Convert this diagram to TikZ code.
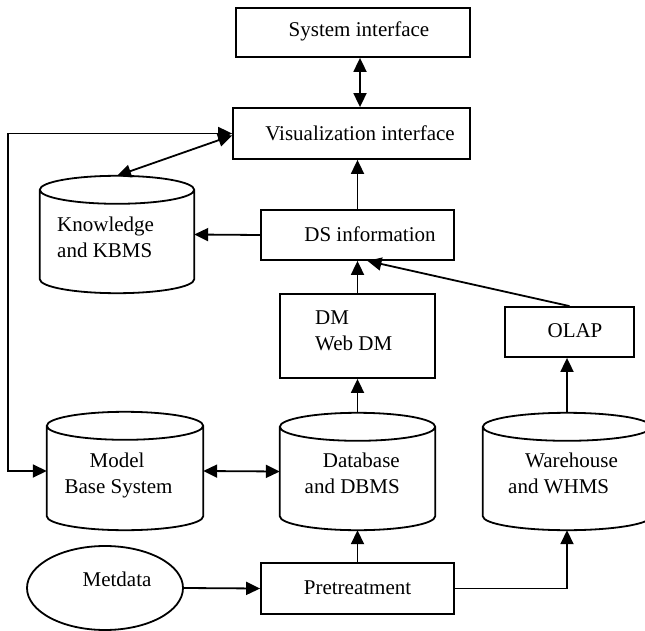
\documentclass[tikz,border=0pt]{standalone}
\usepackage{fontspec}
\setmainfont{Liberation Serif}
\usetikzlibrary{arrows.meta,calc,shapes.geometric}

\tikzset{
  line/.style={line width=1.8pt},
  tip/.tip={Triangle[length=14pt,width=13pt]},
  arr/.style={line, -tip},
  dbl/.style={line, tip-tip},
  box/.style={draw, line width=1.8pt, rectangle, inner sep=0pt},
  cylbody/.style={rectangle, inner sep=0pt},
  lbl/.style={inner sep=0pt, font=\rmfamily\fontsize{21}{25}\selectfont},
  oval/.style={draw, line width=1.8pt, ellipse, inner sep=0pt}
}

% upright cylinder drawn round a named body node
\newcommand\drawcyl[1]{%
  \draw[line] let \p1=(#1.north west), \p2=(#1.north east), \n1={(\x2-\x1)/2} in
    ([yshift=-14pt]#1.north west) -- ([yshift=14pt]#1.south west)
    arc[start angle=180, end angle=360, x radius=\n1, y radius=14pt]
    -- ([yshift=-14pt]#1.north east)
    arc[start angle=0, end angle=360, x radius=\n1, y radius=14pt];
}

\begin{document}
\begin{tikzpicture}[x=1pt,y=-1pt]
\useasboundingbox (0,0) rectangle (645,631);

% rectangular boxes
\node[box, minimum width=234pt, minimum height=49pt] (sys) at (353,32.5) {};
\node[lbl, anchor=base] (systxt) at (359,37) {System interface};
\node[box, minimum width=237pt, minimum height=51pt] (vis) at (351.5,133.5) {};
\node[lbl, anchor=base] (vistxt) at (360,141) {Visualization interface};
\node[box, minimum width=193pt, minimum height=50pt] (ds) at (357.5,235) {};
\node[lbl, anchor=base] (dstxt) at (370,241) {DS information};
\node[box, minimum width=155pt, minimum height=84pt] (dm) at (357.5,336) {};
\node[lbl, anchor=base west] (dmtxt1) at (315,324) {DM};
\node[lbl, anchor=base west] (dmtxt2) at (315,350) {Web DM};
\node[box, minimum width=129pt, minimum height=50pt] (olap) at (569.5,332) {};
\node[lbl, anchor=base] (olaptxt) at (575,337) {OLAP};
\node[box, minimum width=193pt, minimum height=51pt] (pre) at (357.5,588.5) {};
\node[lbl, anchor=base] (pretxt) at (357.5,594) {Pretreatment};

% cylinders
\node[cylbody, minimum width=154pt, minimum height=117pt] (kb) at (117,234.5) {};
\drawcyl{kb}
\node[lbl, anchor=base west] (kbtxt1) at (57,232) {Knowledge};
\node[lbl, anchor=base west] (kbtxt2) at (57,257) {and KBMS};

\node[cylbody, minimum width=156pt, minimum height=118pt] (mbs) at (125,471) {};
\drawcyl{mbs}
\node[lbl, anchor=base] (mbstxt1) at (117,467) {Model};
\node[lbl, anchor=base] (mbstxt2) at (118.5,493) {Base System};

\node[cylbody, minimum width=155pt, minimum height=117pt] (db) at (357.5,471.5) {};
\drawcyl{db}
\node[lbl, anchor=base east] (dbtxt1) at (400,467) {Database};
\node[lbl, anchor=base east] (dbtxt2) at (400,493) {and DBMS};

\node[cylbody, minimum width=168pt, minimum height=117pt] (wh) at (567,471.5) {};
\drawcyl{wh}
\node[lbl, anchor=base west] (whtxt1) at (525,467) {Warehouse};
\node[lbl, anchor=base west] (whtxt2) at (508,493) {and WHMS};

% metadata oval
\node[oval, minimum width=156pt, minimum height=84pt] (meta) at (105,588) {};
\node[lbl, anchor=base] (metatxt) at (117,586) {Metdata};

% connectors
\draw[dbl] ([xshift=7pt]sys.south) -- ([xshift=8.5pt]vis.north);
\coordinate (loop) at (8,300);
\draw[dbl] (vis.west) -| (loop) |- (mbs.west);
\draw[dbl] ([yshift=-2pt]vis.west) -- (kb.north);
\draw[arr] (ds.west) -- (kb.east);
\draw[arr] (ds.north) -- (ds.north |- vis.south);
\draw[arr] (dm.north) -- (dm.north |- ds.south);
\draw[arr] (olap.north) -- ([xshift=10pt]ds.south);
\draw[arr] (db.north) -- (db.north |- dm.south);
\draw[arr] (wh.north) -- (wh.north |- olap.south);
\draw[dbl] (mbs.east) -- (db.west);
\draw[arr] (meta.east) -- (pre.west);
\draw[arr] (pre.north) -- (db.south);
\draw[arr] (pre.east) -| (wh.south);
\end{tikzpicture}
\end{document}
